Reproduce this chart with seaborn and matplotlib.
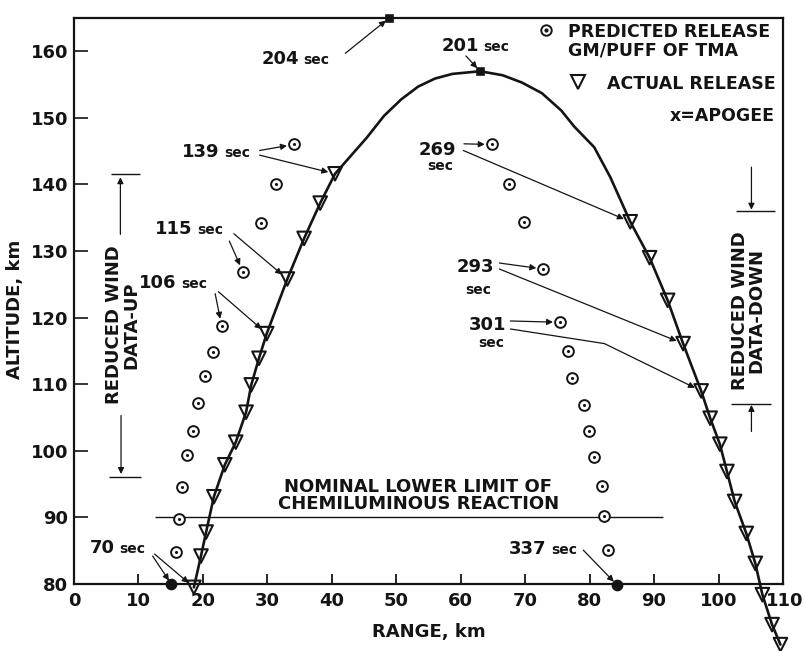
import matplotlib
matplotlib.use("Agg")
import matplotlib.pyplot as plt
from matplotlib.transforms import ScaledTranslation
import seaborn as sns
import pandas as pd

sns.set_theme(style="white")
plt.rcParams["font.family"] = ["DejaVu Sans"]
plt.rcParams["font.weight"] = "bold"
INK = "#141414"

# ---- data (range km, altitude km) ----
# actual TMA releases, ascending leg (70 sec ... 139 sec)
actual_up_range = [18.6, 19.7, 20.5, 21.7, 23.4, 25.1, 26.7, 27.5, 28.7, 29.9, 33.1, 35.7, 38.2, 40.5]
actual_up_alt = [79.5, 84.2, 87.8, 93.1, 97.9, 101.3, 105.8, 109.9, 113.9, 117.6, 125.8, 131.9, 137.2, 141.6]
# actual TMA releases, descending leg (269 sec ...)
actual_down_range = [86.3, 89.3, 92.1, 94.5, 97.3, 98.7, 100.2, 101.3, 102.5, 104.3, 105.7, 106.8, 108.3, 109.6]
actual_down_alt = [134.4, 129.0, 122.6, 116.1, 109.0, 104.9, 101.0, 96.9, 92.4, 87.6, 83.1, 78.4, 73.9, 70.9]
# trajectory between the two release legs, over apogee
arc_range = [45.4, 48.1, 50.8, 53.4, 56.0, 58.7, 63.0, 66.5, 69.5, 72.6, 75.6, 77.6, 80.7, 83.2]
arc_alt = [147.0, 150.3, 152.8, 154.7, 155.9, 156.6, 157.0, 156.4, 155.3, 153.7, 151.1, 148.7, 145.6, 141.1]

# predicted releases (1 gm/puff of TMA)
pred_up_range = [15.8, 16.3, 16.8, 17.5, 18.4, 19.3, 20.4, 21.5, 22.9, 26.2, 29.0, 31.4, 34.1]
pred_up_alt = [84.8, 89.8, 94.5, 99.3, 103.0, 107.2, 111.2, 114.8, 118.8, 126.9, 134.2, 140.0, 146.0]
pred_down_range = [64.8, 67.5, 69.8, 72.8, 75.4, 76.6, 77.3, 79.2, 79.9, 80.7, 81.9, 82.2, 82.9]
pred_down_alt = [146.0, 140.0, 134.4, 127.3, 119.3, 115.0, 111.0, 106.9, 103.0, 99.1, 94.7, 90.2, 85.1]
# first and last predicted releases (70 sec, 337 sec)
pred_end_range = [15.1, 84.2]
pred_end_alt = [80.0, 79.9]

apogee_range, apogee_alt = [63.0], [157.0]          # 201 sec
top_range, top_alt = [48.9], [165.0]                # 204 sec

nominal_limit_alt = 90.0
nominal_limit_span = [12.5, 91.4]

x_ticks = list(range(0, 111, 10))
y_ticks = list(range(80, 161, 10))

traj = pd.DataFrame({
    "range": actual_up_range + arc_range + actual_down_range,
    "alt": actual_up_alt + arc_alt + actual_down_alt,
})
actual = pd.DataFrame({"range": actual_up_range + actual_down_range,
                       "alt": actual_up_alt + actual_down_alt})
pred = pd.DataFrame({"range": pred_up_range + pred_down_range,
                     "alt": pred_up_alt + pred_down_alt})
pred_end = pd.DataFrame({"range": pred_end_range, "alt": pred_end_alt})

# ---- figure ----
fig = plt.figure(figsize=(8.05, 6.51), dpi=100)
ax = fig.add_axes([0.0919, 0.1029, 0.8808, 0.8695])
ax.set_xlim(0, 110)
ax.set_ylim(80, 165)

sns.lineplot(data=traj, x="range", y="alt", sort=False, estimator=None,
             color=INK, lw=1.9, ax=ax, clip_on=False, zorder=3)
sns.scatterplot(data=actual, x="range", y="alt", marker="v", s=95,
                facecolor="none", edgecolor=INK, linewidth=1.5,
                ax=ax, clip_on=False, zorder=4)
sns.scatterplot(data=pred, x="range", y="alt", marker="o", s=60,
                facecolor="white", edgecolor=INK, linewidth=1.4,
                ax=ax, clip_on=False, zorder=4)
sns.scatterplot(data=pred, x="range", y="alt", marker="o", s=5,
                color=INK, edgecolor=INK, linewidth=0,
                ax=ax, clip_on=False, zorder=5)
sns.scatterplot(data=pred_end, x="range", y="alt", marker="o", s=55,
                color=INK, edgecolor=INK, linewidth=1,
                ax=ax, clip_on=False, zorder=5)
sns.scatterplot(x=apogee_range, y=apogee_alt, marker="s", s=28, color=INK,
                edgecolor=INK, ax=ax, clip_on=False, zorder=5)
sns.scatterplot(x=top_range, y=top_alt, marker="s", s=30, color=INK,
                edgecolor=INK, ax=ax, clip_on=False, zorder=5)

# nominal lower limit of the chemiluminous reaction
ax.hlines(nominal_limit_alt, *nominal_limit_span, color=INK, lw=1.0, zorder=2)
ax.text(53.4, 93.3, "NOMINAL LOWER LIMIT OF\nCHEMILUMINOUS REACTION",
        ha="center", va="center", fontsize=13, linespacing=0.95, color=INK)

# ---- axes styling ----
for side in ["left", "right", "top", "bottom"]:
    ax.spines[side].set_visible(True)
    ax.spines[side].set_color(INK)
    ax.spines[side].set_linewidth(1.6)
ax.set_xticks(x_ticks)
ax.set_yticks(y_ticks)
ax.tick_params(axis="x", direction="in", length=7, width=1.3, pad=6,
               labelsize=13, colors=INK, bottom=True, top=False)
ax.tick_params(axis="y", direction="in", length=10, width=1.2, pad=4,
               labelsize=13, colors=INK, left=True, right=False)
for lbl in ax.get_xticklabels() + ax.get_yticklabels():
    lbl.set_fontweight("bold")
# the last range label sits just outside the right frame edge
last = ax.get_xticklabels()[-1]
last.set_horizontalalignment("right")
last.set_transform(last.get_transform() + ScaledTranslation(15 / 72, 0, fig.dpi_scale_trans))

ax.set_xlabel("RANGE, km", fontsize=13, fontweight="bold", color=INK)
ax.set_ylabel("ALTITUDE, km", fontsize=13, fontweight="bold", color=INK)
ax.xaxis.set_label_coords(0.5, -0.069)
ax.yaxis.set_label_coords(-0.071, 0.485)

# ---- time labels with arrows ----
ARROW = dict(arrowstyle="-|>", color=INK, lw=0.9, mutation_scale=9,
             shrinkA=0, shrinkB=5)
LINE = dict(arrowstyle="-", color=INK, lw=0.9, shrinkA=0, shrinkB=0)


def inline_label(x, y, num):
    ax.text(x - 0.3, y, num, ha="right", va="baseline", fontsize=13, color=INK)
    ax.text(x + 0.4, y, "sec", ha="left", va="baseline", fontsize=10, color=INK)


def stacked_label(x, y, num, x2, y2):
    ax.text(x, y, num, ha="center", va="baseline", fontsize=13, color=INK)
    ax.text(x2, y2, "sec", ha="center", va="baseline", fontsize=10, color=INK)


def arrow(tail, head, **kw):
    props = dict(ARROW)
    props.update(kw)
    ax.annotate("", xy=head, xytext=tail, arrowprops=props, annotation_clip=False)


inline_label(35.2, 158.1, "204")
arrow((42.1, 159.7), (top_range[0], top_alt[0]), shrinkB=3)

inline_label(63.1, 160.0, "201")
arrow((60.8, 159.3), (apogee_range[0], apogee_alt[0]), shrinkB=3)

inline_label(22.9, 144.1, "139")
arrow((28.8, 145.1), (pred_up_range[-1], pred_up_alt[-1]))
arrow((28.8, 144.4), (actual_up_range[-1], actual_up_alt[-1]))

inline_label(18.7, 132.5, "115")
arrow((24.1, 131.5), (pred_up_range[9], pred_up_alt[9]))
arrow((24.8, 132.6), (actual_up_range[10], actual_up_alt[10]))

inline_label(16.2, 124.5, "106")
arrow((21.9, 123.6), (pred_up_range[8], pred_up_alt[8]))
arrow((22.4, 123.9), (actual_up_range[9], actual_up_alt[9]))

inline_label(6.6, 84.6, "70")
arrow((12.2, 84.2), (pred_end_range[0], pred_end_alt[0]), shrinkB=3)
arrow((12.5, 84.5), (actual_up_range[0], actual_up_alt[0]))

inline_label(73.6, 84.5, "337")
arrow((79.0, 85.1), (pred_end_range[1], pred_end_alt[1]), shrinkB=3)

stacked_label(56.4, 144.4, "269", 56.8, 142.2)
arrow((60.5, 146.1), (pred_down_range[0], pred_down_alt[0]))
arrow((60.4, 145.1), (actual_down_range[0], actual_down_alt[0]))

stacked_label(62.3, 126.8, "293", 62.7, 123.6)
arrow((66.0, 128.2), (pred_down_range[3], pred_down_alt[3]))
arrow((66.0, 127.3), (actual_down_range[3], actual_down_alt[3]))

stacked_label(64.1, 118.1, "301", 64.8, 115.6)
arrow((67.7, 119.5), (pred_down_range[4], pred_down_alt[4]))
ax.annotate("", xy=(82.3, 116.1), xytext=(67.7, 118.3), arrowprops=LINE)
arrow((82.3, 116.1), (actual_down_range[4], actual_down_alt[4]))

# ---- reduced wind data brackets ----
ax.text(7.5, 118.9, "REDUCED WIND\nDATA-UP", rotation=90, ha="center", va="center",
        fontsize=13, linespacing=0.95, color=INK)
ax.hlines([141.5, 96.1], [5.7, 5.5], [10.2, 10.4], color=INK, lw=1.0)
arrow((7.2, 132.5), (7.2, 141.5), shrinkB=2)
arrow((7.3, 105.3), (7.3, 96.1), shrinkB=2)

ax.text(104.6, 121.1, "REDUCED WIND\nDATA-DOWN", rotation=90, ha="center", va="center",
        fontsize=13, linespacing=0.95, color=INK)
ax.hlines([136.0, 107.1], [102.7, 102.0], [108.7, 108.2], color=INK, lw=1.0)
arrow((105.1, 142.6), (105.1, 136.0), shrinkB=1)
arrow((105.1, 102.9), (105.1, 107.1), shrinkB=1)

# ---- key ----
ax.plot([73.3], [163.2], marker="o", ms=7.5, mfc="white", mec=INK, mew=1.4, ls="none")
ax.plot([73.3], [163.2], marker="o", ms=2, mfc=INK, mec=INK, ls="none")
ax.text(76.7, 162.9, "PREDICTED RELEASE", ha="left", va="center", fontsize=12.5, color=INK)
ax.text(76.7, 160.1, "GM/PUFF OF TMA", ha="left", va="center", fontsize=12.5, color=INK)
ax.plot([78.2], [155.4], marker="v", ms=9.5, mfc="none", mec=INK, mew=1.5, ls="none")
ax.text(108.8, 155.1, "ACTUAL RELEASE", ha="right", va="center", fontsize=12.5, color=INK)
ax.text(108.7, 150.3, "x=APOGEE", ha="right", va="center", fontsize=12.5, color=INK)

fig.savefig("out.png", dpi=100)
